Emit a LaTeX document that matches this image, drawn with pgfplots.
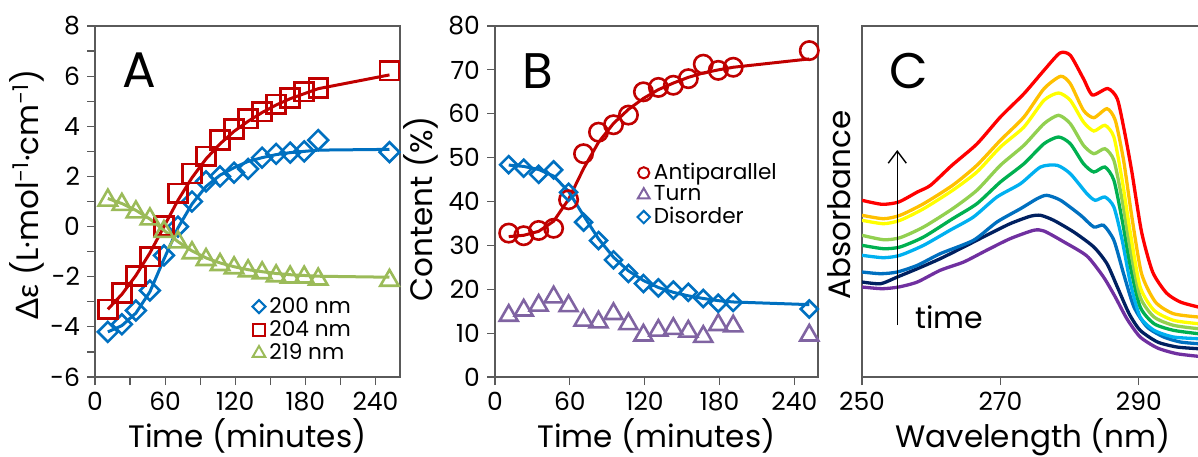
\documentclass[border=0pt]{standalone}
\usepackage{fontspec}
\setmainfont{Poppins}
\newfontfamily\grk{Lato}
\usepackage{pgfplots}
\pgfplotsset{compat=1.18}
\usetikzlibrary{arrows.meta}
\definecolor{axgray}{HTML}{5A5A5A}
\definecolor{redA}{HTML}{C00000}
\definecolor{blueA}{HTML}{0070C0}
\definecolor{greenA}{HTML}{9BBB59}
\definecolor{purpB}{HTML}{8064A2}
\definecolor{cRed}{HTML}{FF0000}
\definecolor{cOra}{HTML}{FFC000}
\definecolor{cYel}{HTML}{FFFF00}
\definecolor{cLgr}{HTML}{92D050}
\definecolor{cGre}{HTML}{00B050}
\definecolor{cLbl}{HTML}{00B0F0}
\definecolor{cBlu}{HTML}{0070C0}
\definecolor{cNav}{HTML}{002060}
\definecolor{cPur}{HTML}{7030A0}
\pgfplotsset{
  panel/.style={
    scale only axis, anchor=south west,
    axis line style={draw=axgray, line width=0.6pt},
    every tick/.style={draw=axgray, line width=0.6pt},
    tick align=outside, xtick pos=bottom, ytick pos=left,
    major tick length=4pt, minor tick length=4pt,
    tick label style={font=\fontsize{12.5}{12.5}\selectfont},
    /pgf/number format/assume math mode=true,
    label style={font=\fontsize{15.5}{16}\selectfont},
    legend style={draw=none, fill=none, inner sep=0pt, font=\fontsize{10.8}{10.8}\selectfont,
      cells={anchor=west},
      /tikz/every even column/.append style={column sep=5pt}},
    legend image code/.code={\draw[mark repeat=2,mark phase=2] plot coordinates {(0pt,0pt) (6pt,0pt) (12pt,0pt)};},
  },
  fitline/.style={line width=1.5pt, no marks},
}
\begin{document}
\begin{tikzpicture}
% ---------------- Panel A ----------------
\begin{axis}[panel, at={(47.5pt,39.5pt)}, width=152.5pt, height=175.5pt,
  xmin=0, xmax=261, ymin=-6, ymax=8, clip=false,
  xtick={0,60,120,180,240}, minor xtick={30,90,150,210},
  ytick={-6,-4,-2,0,2,4,6,8}, yticklabels={-6,-4,-2,0,2,4,6,8}, minor ytick={-5,-3,-1,1,3,5,7},
  ylabel={{\grk Δε} (L·mol\textsuperscript{{\grk −}1}·cm\textsuperscript{{\grk −}1})},
  ylabel style={at={(axis description cs:-0.223,0.52)}, anchor=center},
  xlabel={Time (minutes)},
  xlabel style={at={(axis description cs:0.5,-0.2)}, anchor=base},
  legend style={at={(axis description cs:0.515,0.24)}, anchor=north west, row sep=-1.8pt},
]
\addlegendimage{only marks, mark=square, mark size=2.3pt, mark options={rotate=45, draw=blueA, line width=1pt}}
\addlegendentry{200 nm}
\addlegendimage{only marks, mark=square, mark size=3pt, mark options={draw=redA, line width=1pt}}
\addlegendentry{204 nm}
\addlegendimage{only marks, mark=triangle, mark size=3.6pt, mark options={draw=greenA, line width=1pt}}
\addlegendentry{219 nm}
% fits
\addplot[fitline, blueA, forget plot] coordinates {(11,-4.2) (23,-3.95) (35,-3.45) (47,-2.6) (59,-1.3) (71,-0.05) (83,0.9) (95,1.6) (107,2.05) (119,2.35) (131,2.6) (143,2.75) (155,2.87) (167,2.95) (179,3.0) (191,3.05) (252,3.08)};
\addplot[fitline, redA, forget plot] coordinates {(11,-3.3) (23,-2.7) (35,-1.95) (47,-1.05) (59,0.0) (71,1.05) (83,1.95) (95,2.7) (107,3.3) (119,3.8) (131,4.2) (143,4.55) (155,4.85) (167,5.1) (179,5.3) (191,5.5) (252,6.05)};
\addplot[fitline, greenA, forget plot] coordinates {(11,1.12) (23,0.92) (35,0.65) (47,0.3) (59,-0.15) (71,-0.6) (83,-0.97) (95,-1.25) (107,-1.45) (119,-1.6) (131,-1.72) (143,-1.8) (155,-1.87) (167,-1.92) (179,-1.95) (191,-1.98) (252,-2.02)};
% data
\addplot[only marks, mark=square, mark size=3.5pt, mark options={rotate=45, draw=blueA, fill=none, line width=1.3pt}, forget plot]
 coordinates {(11,-4.2) (23,-3.9) (35,-3.35) (47,-2.55) (59,-1.15) (71,0.0) (83,1.0) (95,1.8) (107,2.0) (119,2.15) (131,2.3) (143,2.75) (155,2.9) (167,2.95) (179,3.0) (191,3.45) (252,2.97)};
\addplot[only marks, mark=square, mark size=4.7pt, mark options={draw=redA, fill=none, line width=1.3pt}, forget plot]
 coordinates {(11,-3.3) (23,-2.65) (35,-1.97) (47,-1.2) (59,0.03) (71,1.33) (83,2.12) (95,2.8) (107,3.45) (119,3.9) (131,4.3) (143,4.58) (155,4.88) (167,5.13) (179,5.38) (191,5.52) (252,6.22)};
\addplot[only marks, mark=triangle, mark size=5.3pt, mark options={draw=greenA, fill=none, line width=1.3pt}, forget plot]
 coordinates {(11,1.05) (23,0.88) (35,0.58) (47,0.3) (59,-0.2) (71,-0.62) (83,-1.05) (95,-1.32) (107,-1.52) (119,-1.65) (131,-1.77) (143,-1.85) (155,-1.97) (167,-2.02) (179,-2.02) (191,-2.1) (252,-2.15)};
\node[anchor=base west, font=\fontsize{25}{25}\selectfont] at (axis description cs:0.066,0.826) {A};
\end{axis}
% ---------------- Panel B ----------------
\begin{axis}[panel, at={(247.5pt,39.5pt)}, width=161.5pt, height=175.5pt,
  xmin=0, xmax=259, ymin=0, ymax=80, clip=false,
  xtick={0,60,120,180,240}, ytick={0,10,...,80},
  ylabel={Content (\%)},
  ylabel style={at={(axis description cs:-0.229,0.479)}, anchor=center},
  xlabel={Time (minutes)},
  xlabel style={at={(axis description cs:0.5,-0.2)}, anchor=base},
  legend style={at={(axis description cs:0.44,0.622)}, anchor=north west, row sep=-2.3pt},
]
\addlegendimage{only marks, mark=o, mark size=2.8pt, mark options={draw=redA, line width=1pt}}
\addlegendentry{Antiparallel}
\addlegendimage{only marks, mark=triangle, mark size=3.4pt, mark options={draw=purpB, line width=1pt}}
\addlegendentry{Turn}
\addlegendimage{only marks, mark=square, mark size=2.2pt, mark options={rotate=45, draw=blueA, line width=1pt}}
\addlegendentry{Disorder}
\addplot[fitline, redA, forget plot] coordinates {(11,32.0) (23,32.3) (35,33.2) (47,35.5) (59,40.5) (71,47.5) (83,53.5) (95,57.8) (107,61) (119,63.5) (131,65.5) (143,67) (155,68.3) (167,69.3) (179,70) (191,70.6) (252,72.5)};
\addplot[fitline, blueA, forget plot] coordinates {(11,48.3) (23,48) (35,47.3) (47,45.8) (59,42.3) (71,36.8) (83,31.5) (95,27.3) (107,24.2) (119,22) (131,20.4) (143,19.3) (155,18.5) (167,17.9) (179,17.4) (191,17.1) (252,16.5)};
\addplot[only marks, mark=o, mark size=4.6pt, mark options={draw=redA, fill=none, line width=1.3pt}, forget plot]
 coordinates {(11,32.8) (23,32.2) (35,33.4) (47,33.9) (59,40.4) (71,50.9) (83,55.8) (95,57.5) (107,59.7) (119,65) (131,66) (143,66.5) (155,68) (167,71.3) (179,69.9) (191,70.6) (252,74.4)};
\addplot[only marks, mark=triangle, mark size=5.2pt, mark options={draw=purpB, fill=none, line width=1.3pt}, forget plot]
 coordinates {(11,14.0) (23,15.2) (35,16.3) (47,18.2) (59,16.2) (71,12.9) (83,12.5) (95,14.4) (107,12.1) (119,9.5) (131,10.6) (143,11.0) (155,10.4) (167,9.2) (179,11.9) (191,11.6) (252,9.5)};
\addplot[only marks, mark=square, mark size=3pt, mark options={rotate=45, draw=blueA, fill=none, line width=1.3pt}, forget plot]
 coordinates {(11,48.4) (23,47.6) (35,46.2) (47,47.2) (59,42.1) (71,35.3) (83,31.1) (95,26.7) (107,23.6) (119,21.3) (131,20.3) (143,19.8) (155,19.3) (167,17.9) (179,16.8) (191,17) (252,15.5)};
\node[anchor=base west, font=\fontsize{25}{25}\selectfont] at (axis description cs:0.062,0.823) {B};
\end{axis}
% ---------------- Panel C ----------------
\begin{axis}[panel, at={(431pt,39.5pt)}, width=173pt, height=175.5pt,
  xmin=250, xmax=300, ymin=0, ymax=351,
  xtick={250,270,290}, ytick=\empty,
  ylabel={Absorbance},
  ylabel style={at={(axis description cs:-0.066,0.49)}, anchor=center},
  xlabel={Wavelength (nm)},
  xlabel style={at={(axis description cs:0.494,-0.2)}, anchor=base},
  every axis plot/.append style={line width=1.65pt, no marks, smooth, tension=0.4},
]
\addplot[cPur] coordinates {(250,90)(252.9,88.3)(255.3,90)(258,95)(261.3,106.7)(264.7,115)(268,126.7)(271.4,138.3)(274.8,146.7)(276.3,146)(279.2,135)(282.5,121)(284.9,100)(286.6,80)(288.3,58)(290.2,40)(292.7,29)(295.5,23.3)(298.6,20.7)};
\addplot[cNav] coordinates {(250,95)(252.7,93.3)(255.1,100)(258,108.3)(261.3,118.3)(264.7,130)(268,141.7)(271.4,153.3)(274.3,160.7)(275.8,161.7)(277.7,156.7)(280.6,145)(283.5,130)(285.4,113.3)(286.9,90)(288.6,63.3)(290.2,46.7)(292.7,35)(295.5,30)(298.6,28.3)};
\addplot[cBlu] coordinates {(250,105)(252.7,103.3)(255.1,105)(258,111.7)(261.3,123.3)(266.1,136.7)(269.5,155)(272.9,168.3)(275.3,178.3)(276.7,181.7)(278.7,176.7)(281.6,161.7)(283.5,150)(284.9,151.7)(286.4,136.7)(287.8,103.3)(289.3,70)(291.2,50)(293.6,40)(296,35)(298.6,33.3)};
\addplot[cLbl] coordinates {(250,121.7)(253.1,119.3)(255.5,121.7)(258.9,131.7)(262.7,146.7)(266.1,160)(269.5,180)(272.9,193.3)(275.8,210)(278.2,211.7)(280.1,203.3)(282.5,183.3)(283.7,176.7)(285.1,180)(286.4,170)(287.6,136.7)(288.8,93.3)(290.2,60)(292.2,46.7)(295,40)(298.6,38.3)};
\addplot[cGre] coordinates {(250,131.7)(253.1,128.3)(255.5,130)(258.9,140)(263.1,158.3)(266.6,173.3)(270,195)(273.4,213.3)(276.3,233.3)(278.4,240)(280.1,233.3)(282,213.3)(283.5,205)(285.1,210)(286.4,196.7)(287.6,156.7)(288.8,110)(290.2,70)(292.2,53.3)(295,46.7)(298.6,43.3)};
\addplot[cLgr] coordinates {(250,141.7)(253.1,137.3)(255.5,139.3)(258.9,150)(263.1,168.3)(266.6,186.7)(270,211.7)(273.4,231.7)(276.3,253.3)(278.4,261.7)(280.1,253.3)(282,231.7)(283.5,223.3)(285.1,228.3)(286.4,216.7)(287.6,176.7)(288.8,126.7)(290.2,80)(292.2,60)(295,51.7)(298.6,48.3)};
\addplot[cYel] coordinates {(250,156.7)(253.1,153.3)(255.5,156.7)(258.9,168.3)(263.1,186.7)(266.6,205)(270,230)(273.4,250)(276.3,276.7)(278.4,284)(280.1,276.7)(282,255)(283.5,246)(285.1,251.7)(286.4,240)(287.6,196.7)(288.8,143.3)(290.2,90)(292.2,66.7)(295,56.7)(298.6,53.3)};
\addplot[cOra] coordinates {(250,161.7)(253.1,158.3)(255.5,161.7)(258.9,173.3)(263.1,191.7)(266.6,211.7)(270,236.7)(273.4,260)(276.3,288.3)(278.7,300.7)(280.1,293.3)(282,266.7)(283.5,259.3)(285.4,268.3)(286.6,256.7)(287.8,216.7)(289,160)(290.4,103.3)(292.4,75)(295,63.3)(298.6,60)};
\addplot[cRed] coordinates {(250,176.7)(252.9,172.7)(255.3,175)(258,185)(259.9,191.7)(263,211.7)(266.6,233)(270,260)(273.4,283.3)(276.3,306.7)(278.6,324)(280.1,321.7)(282,298.3)(283.3,282)(285.5,288.5)(286.9,278)(288,243)(289,205)(290.4,145)(292,105)(294,84)(296,75)(298.6,70)};
\draw[-{Straight Barb[length=6pt,width=9pt]}, line width=0.7pt] (axis cs:255.1,52) -- (axis cs:255.1,227);
\node[anchor=base west, inner sep=0pt, font=\fontsize{15}{15}\selectfont] at (axis cs:257.7,48.4) {time};
\node[anchor=base west, font=\fontsize{25}{25}\selectfont] at (axis description cs:0.058,0.823) {C};
\end{axis}
\pgfresetboundingbox
\path[use as bounding box] (0,0) rectangle (599pt,228pt);
\end{tikzpicture}
\end{document}
